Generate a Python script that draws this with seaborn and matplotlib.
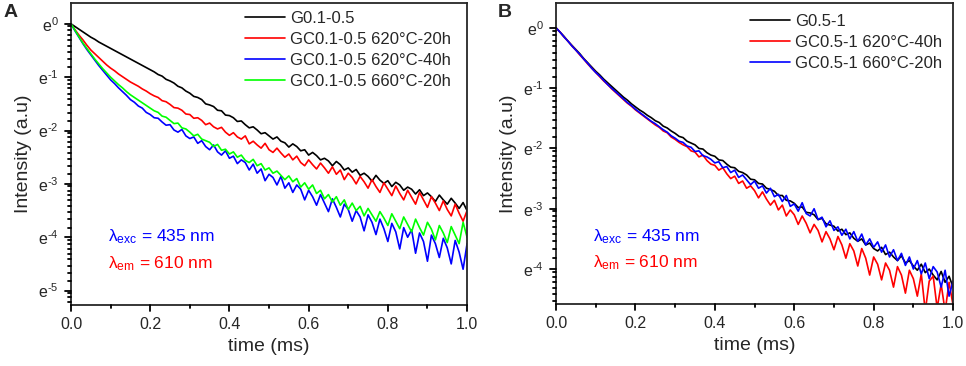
import numpy as np
import pandas as pd
import matplotlib
matplotlib.use('Agg')
import matplotlib.pyplot as plt
import seaborn as sns
from matplotlib.lines import Line2D
from matplotlib.ticker import MultipleLocator, FormatStrFormatter, NullLocator

# time axis (ms), sampled every 0.01 ms
time_ms = np.round(np.arange(101) * 0.01, 2)

# ---- panel A : ln(intensity) ----
labels_a = ['G0.1-0.5', 'GC0.1-0.5 620°C-20h', 'GC0.1-0.5 620°C-40h', 'GC0.1-0.5 660°C-20h']
colors_a = ['#000000', '#ff0000', '#0000ff', '#00ff00']

ln_a_g = [0, -0.05, -0.10, -0.15, -0.20, -0.25, -0.29, -0.34, -0.38, -0.42,
          -0.46, -0.50, -0.54, -0.58, -0.62, -0.66, -0.70, -0.74, -0.78, -0.82,
          -0.86, -0.90, -0.95, -0.98, -1.04, -1.07, -1.11, -1.17, -1.20, -1.26,
          -1.30, -1.36, -1.38, -1.42, -1.50, -1.52, -1.55, -1.62, -1.63, -1.71,
          -1.72, -1.76, -1.83, -1.82, -1.89, -1.95, -1.93, -1.99, -2.06, -2.04,
          -2.10, -2.16, -2.12, -2.20, -2.23, -2.31, -2.25, -2.30, -2.38, -2.36,
          -2.46, -2.41, -2.47, -2.55, -2.52, -2.57, -2.66, -2.58, -2.64, -2.74,
          -2.70, -2.78, -2.73, -2.84, -2.80, -2.86, -2.95, -2.84, -2.93, -2.99,
          -2.94, -3.05, -2.97, -3.02, -3.12, -3.06, -3.10, -3.19, -3.11, -3.22,
          -3.17, -3.24, -3.33, -3.21, -3.30, -3.38, -3.27, -3.36, -3.46, -3.35,
          -3.50]
ln_a_620_20 = [0, -0.11, -0.21, -0.30, -0.40, -0.49, -0.56, -0.63, -0.70, -0.77,
               -0.83, -0.88, -0.94, -0.99, -1.04, -1.09, -1.13, -1.17, -1.22, -1.26,
               -1.31, -1.35, -1.38, -1.44, -1.46, -1.51, -1.57, -1.58, -1.62, -1.69,
               -1.70, -1.77, -1.76, -1.81, -1.89, -1.86, -1.93, -1.97, -1.94, -2.03,
               -2.09, -2.04, -2.12, -2.16, -2.10, -2.25, -2.20, -2.27, -2.33, -2.24,
               -2.36, -2.41, -2.33, -2.42, -2.50, -2.44, -2.55, -2.48, -2.60, -2.66,
               -2.55, -2.64, -2.72, -2.61, -2.70, -2.80, -2.68, -2.82, -2.74, -2.92,
               -2.80, -2.88, -3.00, -2.86, -2.96, -3.08, -2.92, -3.05, -3.16, -2.98,
               -3.10, -3.22, -3.04, -3.18, -3.30, -3.12, -3.25, -3.38, -3.16, -3.30,
               -3.44, -3.24, -3.36, -3.50, -3.32, -3.48, -3.60, -3.38, -3.55, -3.70,
               -3.50]
ln_a_620_40 = [0, -0.13, -0.25, -0.37, -0.48, -0.58, -0.68, -0.78, -0.87, -0.96,
               -1.05, -1.12, -1.20, -1.27, -1.34, -1.42, -1.47, -1.54, -1.58, -1.66,
               -1.70, -1.76, -1.77, -1.84, -1.90, -1.89, -1.99, -2.03, -1.98, -2.10,
               -2.15, -2.12, -2.24, -2.19, -2.30, -2.36, -2.27, -2.40, -2.46, -2.38,
               -2.52, -2.48, -2.62, -2.55, -2.60, -2.74, -2.63, -2.80, -2.72, -2.94,
               -2.82, -2.88, -3.02, -2.86, -3.08, -2.98, -3.16, -3.02, -3.10, -3.30,
               -3.12, -3.24, -3.40, -3.20, -3.36, -3.52, -3.28, -3.44, -3.62, -3.38,
               -3.48, -3.70, -3.50, -3.62, -3.88, -3.58, -3.72, -3.95, -3.66, -3.84,
               -4.08, -3.74, -3.90, -4.22, -3.82, -4.00, -3.86, -4.30, -3.92, -4.08,
               -4.45, -3.96, -4.12, -4.38, -4.02, -4.20, -4.50, -4.06, -4.28, -4.60,
               -4.12]
ln_a_660_20 = [0, -0.12, -0.24, -0.36, -0.46, -0.56, -0.66, -0.75, -0.84, -0.92,
               -1.00, -1.07, -1.14, -1.20, -1.27, -1.33, -1.38, -1.43, -1.48, -1.53,
               -1.58, -1.63, -1.66, -1.73, -1.75, -1.81, -1.87, -1.86, -1.95, -1.97,
               -2.03, -2.10, -2.07, -2.16, -2.19, -2.22, -2.30, -2.26, -2.37, -2.35,
               -2.44, -2.40, -2.50, -2.46, -2.56, -2.60, -2.54, -2.66, -2.62, -2.74,
               -2.70, -2.80, -2.76, -2.84, -2.92, -2.85, -2.96, -2.90, -3.06, -2.98,
               -3.10, -3.02, -3.18, -3.12, -3.28, -3.20, -3.34, -3.24, -3.40, -3.30,
               -3.48, -3.36, -3.50, -3.42, -3.60, -3.46, -3.58, -3.70, -3.52, -3.64,
               -3.78, -3.56, -3.70, -3.84, -3.62, -3.76, -3.90, -3.66, -3.82, -3.96,
               -3.72, -3.85, -4.05, -3.78, -3.92, -4.10, -3.80, -3.96, -4.12, -3.72,
               -4.00]

# ---- panel B ----
labels_b = ['G0.5-1', 'GC0.5-1 620°C-40h', 'GC0.5-1 660°C-20h']
colors_b = ['#000000', '#ff0000', '#0000ff']

ln_b_g = [0, -0.07, -0.14, -0.22, -0.29, -0.36, -0.43, -0.51, -0.58, -0.65,
          -0.72, -0.78, -0.85, -0.91, -0.97, -1.03, -1.09, -1.15, -1.20, -1.26,
          -1.31, -1.36, -1.40, -1.45, -1.49, -1.54, -1.57, -1.63, -1.66, -1.71,
          -1.75, -1.80, -1.82, -1.88, -1.91, -1.94, -2.00, -2.01, -2.07, -2.11,
          -2.13, -2.19, -2.20, -2.26, -2.31, -2.32, -2.38, -2.40, -2.44, -2.51,
          -2.52, -2.58, -2.59, -2.66, -2.68, -2.71, -2.78, -2.78, -2.86, -2.87,
          -2.91, -2.98, -2.97, -3.06, -3.07, -3.10, -3.18, -3.16, -3.25, -3.27,
          -3.29, -3.37, -3.34, -3.43, -3.40, -3.49, -3.54, -3.50, -3.60, -3.57,
          -3.66, -3.70, -3.64, -3.76, -3.72, -3.80, -3.86, -3.78, -3.90, -3.86,
          -3.95, -4.02, -3.92, -4.06, -4.00, -4.10, -4.18, -4.04, -4.22, -4.12,
          -4.30]
ln_b_620_40 = [0, -0.07, -0.15, -0.22, -0.30, -0.37, -0.45, -0.52, -0.60, -0.67,
               -0.74, -0.81, -0.88, -0.94, -1.01, -1.07, -1.13, -1.19, -1.25, -1.30,
               -1.36, -1.41, -1.46, -1.51, -1.56, -1.61, -1.65, -1.71, -1.74, -1.81,
               -1.85, -1.90, -1.94, -1.97, -2.04, -2.06, -2.14, -2.11, -2.20, -2.26,
               -2.28, -2.36, -2.32, -2.42, -2.50, -2.46, -2.58, -2.54, -2.66, -2.62,
               -2.70, -2.82, -2.72, -2.84, -2.94, -2.86, -3.02, -2.94, -3.12, -3.02,
               -3.10, -3.26, -3.12, -3.24, -3.40, -3.26, -3.36, -3.55, -3.38, -3.50,
               -3.68, -3.46, -3.60, -3.82, -3.58, -3.70, -3.95, -3.66, -3.82, -4.10,
               -3.80, -3.92, -4.18, -3.90, -4.02, -4.30, -3.96, -4.10, -4.40, -4.02,
               -4.16, -4.45, -4.08, -4.70, -4.20, -4.12, -4.65, -4.25, -4.70, -4.22,
               -4.60]
ln_b_660_20 = [0, -0.07, -0.15, -0.22, -0.30, -0.37, -0.44, -0.52, -0.59, -0.67,
               -0.74, -0.80, -0.87, -0.94, -1.00, -1.06, -1.12, -1.18, -1.24, -1.29,
               -1.35, -1.40, -1.45, -1.50, -1.55, -1.59, -1.64, -1.69, -1.73, -1.79,
               -1.83, -1.88, -1.90, -1.96, -1.98, -2.05, -2.04, -2.12, -2.14, -2.18,
               -2.24, -2.22, -2.32, -2.30, -2.40, -2.36, -2.48, -2.44, -2.52, -2.60,
               -2.54, -2.66, -2.62, -2.74, -2.66, -2.80, -2.76, -2.88, -2.78, -2.96,
               -2.92, -3.04, -2.90, -3.08, -3.12, -3.00, -3.18, -3.14, -3.30, -3.20,
               -3.36, -3.30, -3.44, -3.34, -3.50, -3.38, -3.54, -3.42, -3.60, -3.50,
               -3.64, -3.55, -3.72, -3.60, -3.80, -3.68, -3.86, -3.74, -3.94, -3.80,
               -4.00, -3.86, -4.08, -3.90, -4.16, -3.96, -4.05, -4.30, -4.02, -4.45,
               -4.20]

sns.set_style('ticks')
plt.rcParams['font.family'] = ['Liberation Sans', 'DejaVu Sans']
plt.rcParams['mathtext.fontset'] = 'custom'
plt.rcParams['mathtext.rm'] = 'Liberation Sans'
plt.rcParams['mathtext.it'] = 'Liberation Sans:italic'
plt.rcParams['axes.linewidth'] = 1.3

W, H = 966, 366
fig = plt.figure(figsize=(W / 100, H / 100), dpi=100)
ax_a = fig.add_axes([0.0735, 0.1667, 0.41, 0.825])
ax_b = fig.add_axes([0.5756, 0.1694, 0.411, 0.822])


def draw_ticks(ax, xmajor, xminor, ymajor, yminor):
    # outward tick marks, drawn on the figure in pixel units next to the frame
    x0, y0, x1, y1 = ax.get_position().extents
    xlo, xhi = ax.get_xlim()
    ylo, yhi = ax.get_ylim()
    for vals, ln in ((xmajor, 6.0), (xminor, 3.5)):
        for v in vals:
            fx = x0 + (v - xlo) / (xhi - xlo) * (x1 - x0)
            fig.add_artist(Line2D([fx, fx], [y0, y0 - ln / H], color='black',
                                  linewidth=1.3, transform=fig.transFigure))
    for vals, ln in ((ymajor, 6.0), (yminor, 3.5)):
        for v in vals:
            fy = y0 + (v - ylo) / (yhi - ylo) * (y1 - y0)
            fig.add_artist(Line2D([x0, x0 - ln / W], [fy, fy], color='black',
                                  linewidth=1.3, transform=fig.transFigure))


def draw_panel(ax, curves, labels, colors, ylim, ymajor, leg_anchor):
    df = pd.concat([pd.DataFrame({'time': time_ms, 'lnI': c, 'sample': lab})
                    for c, lab in zip(curves, labels)], ignore_index=True)
    sns.lineplot(data=df, x='time', y='lnI', hue='sample', hue_order=labels,
                 palette=colors, estimator=None, sort=False, linewidth=1.2, ax=ax)
    ax.set_xlim(0, 1.0)
    ax.set_ylim(*ylim)
    ax.xaxis.set_major_locator(MultipleLocator(0.2))
    ax.xaxis.set_minor_locator(NullLocator())
    ax.xaxis.set_major_formatter(FormatStrFormatter('%.1f'))
    ax.set_yticks(ymajor)
    ax.set_yticklabels([r'e$^{\text{%d}}$' % v for v in ymajor])
    ax.yaxis.set_minor_locator(NullLocator())
    ax.tick_params(axis='both', which='major', length=0, pad=9, labelsize=11.5)

    xmajor = [0.0, 0.2, 0.4, 0.6, 0.8, 1.0]
    xminor = [0.1, 0.3, 0.5, 0.7, 0.9]
    yminor = [n - 1 + np.log(m) for n in range(-6, 1)
              for m in [1.2, 1.4, 1.6, 1.8, 2.0, 2.2, 2.4, 2.6]]
    yminor = [v for v in yminor if ylim[0] <= v <= ylim[1]]
    draw_ticks(ax, xmajor, xminor, ymajor, yminor)

    ax.set_xlabel('time (ms)', fontsize=14)
    ax.set_ylabel('Intensity (a.u)', fontsize=14, labelpad=4)
    ax.legend(title=None, frameon=False, loc='upper left', bbox_to_anchor=leg_anchor,
              fontsize=12, handlelength=2.4, handletextpad=0.3, labelspacing=0.36,
              borderpad=0.2, borderaxespad=0)
    ax.text(0.093, 0.225, r'λ$_{\mathrm{exc}}$ = 435 nm', color='#0000ff',
            fontsize=12.5, transform=ax.transAxes, va='center')
    ax.text(0.093, 0.136, r'λ$_{\mathrm{em}}$ = 610 nm', color='#ff0000',
            fontsize=12.5, transform=ax.transAxes, va='center')


draw_panel(ax_a, [ln_a_g, ln_a_620_20, ln_a_620_40, ln_a_660_20], labels_a, colors_a,
           (-5.27, 0.39), [0, -1, -2, -3, -4, -5], (0.43, 0.985))
draw_panel(ax_b, [ln_b_g, ln_b_620_40, ln_b_660_20], labels_b, colors_b,
           (-4.58, 0.41), [0, -1, -2, -3, -4], (0.48, 0.975))

fig.text(0.004, 0.965, 'A', fontsize=14, fontweight='bold', va='center')
fig.text(0.515, 0.965, 'B', fontsize=14, fontweight='bold', va='center')

fig.savefig('out.png', dpi=100)
